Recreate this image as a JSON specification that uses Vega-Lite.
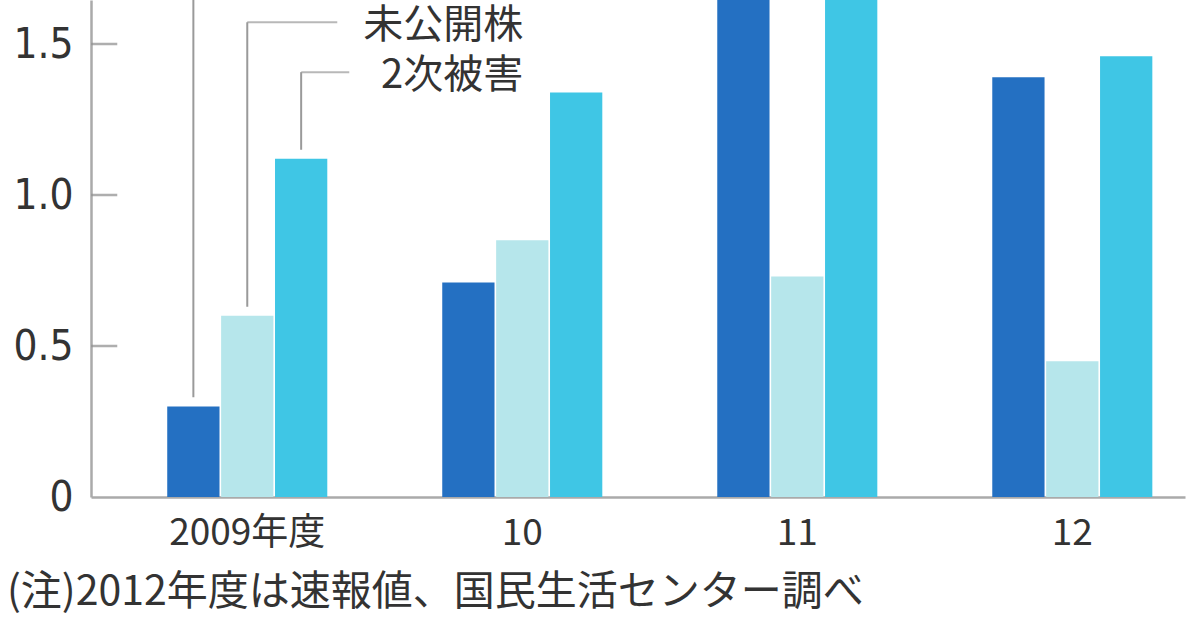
{
  "$schema": "https://vega.github.io/schema/vega-lite/v6.json",
  "width": 1094,
  "height": 497,
  "autosize": {"type": "none"},
  "padding": {"left": 91, "top": 0, "right": 15, "bottom": 131},
  "background": "white",
  "config": {"view": {"stroke": null}},
  "title": {
    "text": "(注)2012年度は速報値、国民生活センター調べ",
    "orient": "bottom",
    "anchor": "start",
    "frame": "group",
    "dx": -84,
    "offset": 22,
    "font": "Noto Sans CJK JP",
    "fontSize": 41,
    "fontWeight": "normal",
    "color": "#333333"
  },
  "datasets": {
    "bars": [
      {"year": "2009年度", "series": "ファンド型投資商品", "value": 0.30},
      {"year": "2009年度", "series": "未公開株", "value": 0.60},
      {"year": "2009年度", "series": "2次被害", "value": 1.12},
      {"year": "10", "series": "ファンド型投資商品", "value": 0.71},
      {"year": "10", "series": "未公開株", "value": 0.85},
      {"year": "10", "series": "2次被害", "value": 1.34},
      {"year": "11", "series": "ファンド型投資商品", "value": 1.9},
      {"year": "11", "series": "未公開株", "value": 0.73},
      {"year": "11", "series": "2次被害", "value": 1.9},
      {"year": "12", "series": "ファンド型投資商品", "value": 1.39},
      {"year": "12", "series": "未公開株", "value": 0.45},
      {"year": "12", "series": "2次被害", "value": 1.46}
    ],
    "leaders": [
      {"year": "2009年度", "series": "ファンド型投資商品", "from": 0.33, "to": 1.8},
      {"year": "2009年度", "series": "未公開株", "from": 0.63, "to": 1.572},
      {"year": "2009年度", "series": "2次被害", "from": 1.15, "to": 1.407}
    ],
    "labels": [
      {"year": "2009年度", "label": "未公開株", "value": 1.56},
      {"year": "2009年度", "label": "2次被害", "value": 1.395}
    ],
    "yticks": [
      {"year": "2009年度", "level": 0.5},
      {"year": "2009年度", "level": 1.0},
      {"year": "2009年度", "level": 1.5}
    ]
  },
  "encoding": {
    "x": {
      "field": "year",
      "type": "nominal",
      "sort": ["2009年度", "10", "11", "12"],
      "scale": {"domain": ["2009年度", "10", "11", "12"], "paddingInner": 0.418, "paddingOuter": 0.198, "align": 0.7},
      "axis": {
        "title": null,
        "labelAngle": 0,
        "ticks": false,
        "labelPadding": 18,
        "labelFont": "Noto Sans CJK JP",
        "labelFontSize": 37,
        "labelColor": "#333333",
        "domainColor": "#aaaaaa",
        "domainWidth": 2.5
      }
    }
  },
  "layer": [
    {
      "data": {"name": "bars"},
      "mark": {"type": "bar", "clip": true},
      "encoding": {
        "xOffset": {
          "field": "series",
          "type": "nominal",
          "sort": ["ファンド型投資商品", "未公開株", "2次被害"],
          "scale": {"domain": ["ファンド型投資商品", "未公開株", "2次被害"], "paddingInner": 0.03, "paddingOuter": 0}
        },
        "y": {
          "field": "value",
          "type": "quantitative",
          "scale": {"domain": [0, 1.646], "nice": false, "zero": true},
          "axis": {
            "title": null,
            "values": [0, 0.5, 1, 1.5],
            "labelExpr": "datum.value == 0 ? '0' : format(datum.value, '.1f')",
            "grid": false,
            "ticks": false,
            "labelPadding": 18,
            "labelFont": "Liberation Sans Narrow, DejaVu Sans Condensed, sans-serif",
            "labelFontSize": 42,
            "labelColor": "#333333",
            "domainColor": "#aaaaaa",
            "domainWidth": 2.5
          }
        },
        "color": {
          "field": "series",
          "type": "nominal",
          "legend": null,
          "scale": {"domain": ["ファンド型投資商品", "未公開株", "2次被害"], "range": ["#2470c2", "#b6e6eb", "#3fc6e5"]}
        }
      }
    },
    {
      "data": {"name": "leaders"},
      "mark": {"type": "rule", "clip": true, "color": "#9a9a9a", "strokeWidth": 2},
      "encoding": {
        "xOffset": {
          "field": "series",
          "type": "nominal",
          "sort": ["ファンド型投資商品", "未公開株", "2次被害"],
          "scale": {"domain": ["ファンド型投資商品", "未公開株", "2次被害"], "paddingInner": 0.03, "paddingOuter": 0}
        },
        "y": {"field": "from", "type": "quantitative"},
        "y2": {"field": "to"}
      }
    },
    {
      "data": {"name": "leaders"},
      "transform": [{"filter": "datum.series == '未公開株'"}],
      "mark": {"type": "tick", "color": "#9a9a9a", "size": 90, "thickness": 2, "xOffset": 45},
      "encoding": {
        "y": {"field": "to", "type": "quantitative"}
      }
    },
    {
      "data": {"name": "leaders"},
      "transform": [{"filter": "datum.series == '2次被害'"}],
      "mark": {"type": "tick", "color": "#9a9a9a", "size": 48, "thickness": 2, "xOffset": 78},
      "encoding": {
        "y": {"field": "to", "type": "quantitative"}
      }
    },
    {
      "data": {"name": "yticks"},
      "mark": {"type": "tick", "color": "#8c8c8c", "size": 26, "thickness": 2.5, "xOffset": -143},
      "encoding": {
        "y": {"field": "level", "type": "quantitative"}
      }
    },
    {
      "data": {"name": "labels"},
      "mark": {"type": "text", "align": "right", "baseline": "middle", "dx": 276, "font": "Noto Sans CJK JP", "fontSize": 40, "color": "#333333"},
      "encoding": {
        "y": {"field": "value", "type": "quantitative"},
        "text": {"field": "label"}
      }
    }
  ]
}
